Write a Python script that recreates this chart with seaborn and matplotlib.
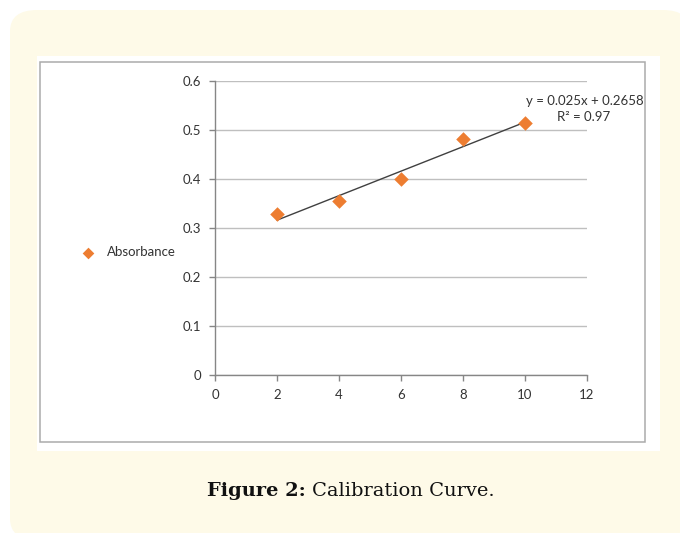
import matplotlib
matplotlib.use("Agg")
import matplotlib.pyplot as plt
from matplotlib.patches import FancyBboxPatch, Rectangle
import numpy as np
import pandas as pd
import seaborn as sns

concentration = [2, 4, 6, 8, 10]
absorbance = [0.328, 0.355, 0.401, 0.481, 0.515]
x_ticks = [0, 2, 4, 6, 8, 10, 12]
y_ticks = [0, 0.1, 0.2, 0.3, 0.4, 0.5, 0.6]
series_name = "Absorbance"
equation_text = "y = 0.025x + 0.2658"
r2_text = "R\u00b2 = 0.97"
caption_bold = "Figure 2:"
caption_rest = "Calibration Curve."

df = pd.DataFrame({"x": concentration, "y": absorbance})

sns.set_style("white")
plt.rcParams["font.family"] = ["Lato", "DejaVu Sans"]

W, H = 680, 533
fig = plt.figure(figsize=(6.8, 5.33), dpi=100)
fig.patch.set_facecolor("white")

def fx(px):
    return px / W

def fy(py):
    return 1 - py / H

# cream rounded background
cream = FancyBboxPatch((fx(10), fy(540)), fx(690) - fx(10), fy(10) - fy(540),
                       boxstyle="round,pad=0,rounding_size=0.04",
                       transform=fig.transFigure, facecolor="#FEFAE8",
                       edgecolor="none", zorder=-3)
fig.patches.append(cream)
# white chart box
white = Rectangle((fx(37), fy(451)), fx(660) - fx(37), fy(56) - fy(451),
                  transform=fig.transFigure, facecolor="white", edgecolor="none", zorder=-2)
fig.patches.append(white)
border = Rectangle((fx(40), fy(442)), fx(645) - fx(40), fy(62) - fy(442),
                   transform=fig.transFigure, facecolor="none", edgecolor="#ABABAB",
                   linewidth=1.1, zorder=-1)
fig.patches.append(border)

ax = fig.add_axes([fx(215), fy(375), fx(587) - fx(215), fy(81) - fy(375)])
ax.set_facecolor("none")

sns.regplot(data=df, x="x", y="y", ax=ax, scatter=False, ci=None, truncate=True,
            line_kws={"color": "#404040", "linewidth": 1.0, "zorder": 3})
sns.scatterplot(data=df, x="x", y="y", ax=ax, marker="D", s=55, color="#ED7D31",
                edgecolor="#ED7D31", linewidth=0, zorder=4, label=series_name)

ax.set_xlim(0, 12)
ax.set_ylim(0, 0.6)
ax.set_xticks(x_ticks)
ax.set_yticks(y_ticks)
ax.set_xticklabels([str(v) for v in x_ticks])
ax.set_yticklabels(["0" if v == 0 else f"{v:.1f}" for v in y_ticks])
ax.set_xlabel("")
ax.set_ylabel("")
ax.yaxis.grid(True, color="#BFBFBF", linewidth=1.0)
ax.xaxis.grid(False)
ax.set_axisbelow(True)
for s in ["top", "right"]:
    ax.spines[s].set_visible(False)
for s in ["left", "bottom"]:
    ax.spines[s].set_color("#868686")
    ax.spines[s].set_linewidth(1.0)
ax.tick_params(axis="both", which="both", direction="out", length=4, width=1,
               color="#868686", labelsize=9.5, labelcolor="#333333", pad=6,
               left=True, bottom=True)
ax.tick_params(axis="y", pad=6)

leg = ax.legend(loc="center left", bbox_to_anchor=(fx(63), fy(252)),
                bbox_transform=fig.transFigure, frameon=False, fontsize=9.5,
                handletextpad=0.4, markerscale=0.8)
for t in leg.get_texts():
    t.set_color("#333333")

fig.text(fx(585), fy(101), equation_text, ha="center", va="center",
         fontsize=9.5, color="#333333")
fig.text(fx(584), fy(117), r2_text, ha="center", va="center",
         fontsize=9.5, color="#333333")

fig.text(fx(306), fy(491), caption_bold, ha="right", va="center",
         fontsize=14, fontweight="bold", family="DejaVu Serif", color="#111111")
fig.text(fx(312), fy(491), caption_rest, ha="left", va="center",
         fontsize=14, family="DejaVu Serif", color="#111111")

fig.savefig("out.png", dpi=100, facecolor=fig.get_facecolor())
